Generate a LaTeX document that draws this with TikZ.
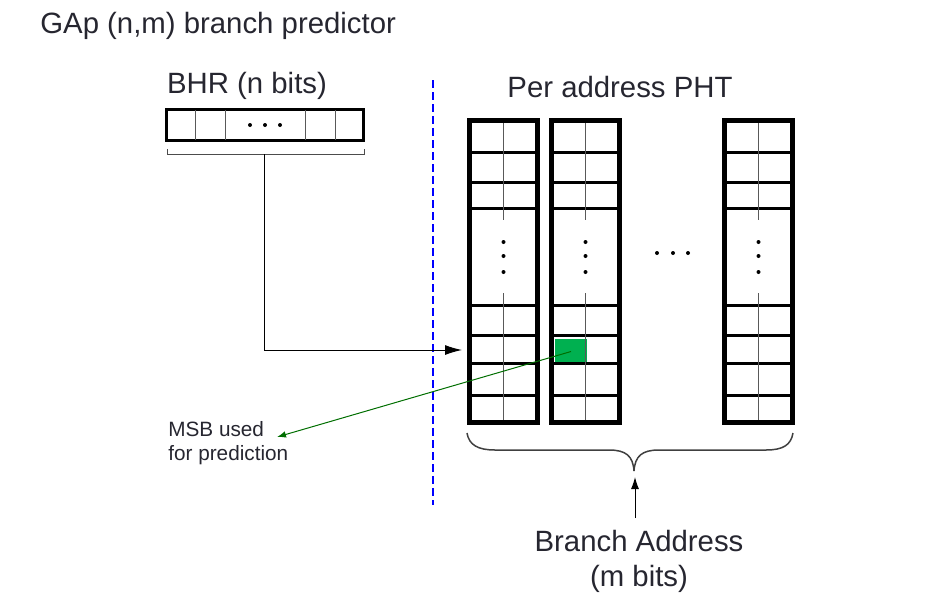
\documentclass[tikz,border=0pt]{standalone}
\usepackage{fontspec}
\setmainfont{Liberation Sans}
\usetikzlibrary{arrows.meta}
\definecolor{txtgray}{HTML}{262630}
\definecolor{cellgreen}{HTML}{00B050}
\definecolor{msbgreen}{HTML}{006E00}

\begin{document}
\begin{tikzpicture}[x=0.2mm,y=-0.2mm,
  bigtext/.style={font=\fontsize{16.7}{20}\selectfont, text=txtgray, inner sep=0pt},
  smalltext/.style={font=\fontsize{11.8}{13.6}\selectfont, text=txtgray, inner sep=0pt, align=left},
  frame/.style={line width=1mm},
  rowline/.style={line width=0.6mm},
  midline/.style={line width=0.2mm, black!65},
  bigarrow/.style={-{Latex[length=3.4mm,width=2mm]}, line width=0.2mm}]
\useasboundingbox (0,0) rectangle (946,592);

% Title and labels
\node[bigtext, anchor=west] (title) at (40,26) {GAp (n,m) branch predictor};
\node[bigtext] (bhrlabel) at (247,86) {BHR (n bits)};
\node[bigtext] (phtlabel) at (620,87) {Per address PHT};

% BHR register
\draw[line width=0.6mm] (166.5,109.5) rectangle (363.5,140.5);
\foreach \xb in {195,225,305,335}
    \draw[midline] (\xb,110) -- (\xb,140);
\foreach \xd in {250,265,280}
    \fill (\xd,125) circle (2);
\draw[line width=0.2mm, black!70] (167,149) -- (167,154) -- (364,154) -- (364,149);
\coordinate (bhrout) at (264,154);

% Separator
\draw[blue, line width=0.4mm, dash pattern=on 1.6mm off 0.8mm] (433,80) -- (433,505);

% Selected counter
\node[fill=cellgreen, minimum width=6.4mm, minimum height=5mm, inner sep=0pt] (msb) at (571,351.5) {};

% PHT tables
\foreach \xl in {467,549,722} {
    \draw[frame] (\xl+2.5,120.5) rectangle (\xl+70.5,422.5);
    \foreach \yr in {152,182,208,305,335,363,395}
        \draw[rowline] (\xl+5,\yr) -- (\xl+68,\yr);
    \draw[midline] (\xl+36.5,123) -- (\xl+36.5,220);
    \draw[midline] (\xl+36.5,293) -- (\xl+36.5,420);
    \foreach \yd in {242,256,272}
        \fill (\xl+36.5,\yd) circle (2);
}
\foreach \xd in {657,673,688}
    \fill (\xd,253) circle (2);

% History index arrow
\coordinate (phtin) at (462,350);
\draw[bigarrow] (bhrout) |- (phtin);

% MSB output
\node[smalltext, anchor=west] (msblabel) at (168,443) {MSB used\\for prediction};
\coordinate (msbtip) at (277,437);
\draw[msbgreen, line width=0.2mm, -{Latex[length=1.8mm,width=1.3mm]}] (msb.center) -- (msbtip);

% Brace over the tables
\draw[line width=0.3mm, black!75] (467,433) .. controls (469,445) and (478,450) .. (495,450)
    -- (609,450) .. controls (626,450) and (633,456) .. (634,471)
    .. controls (635,456) and (642,450) .. (659,450)
    -- (766,450) .. controls (783,450) and (791,445) .. (793,433);
\coordinate (bracetip) at (635,477);

% Branch address
\node[bigtext, align=center] (addr) at (639,561) {Branch Address\\(m bits)};
\coordinate (addrfoot) at (635,518);
\draw[-{Latex[length=2.4mm,width=1.6mm]}, line width=0.2mm] (addrfoot) -- (bracetip);
\end{tikzpicture}
\end{document}
